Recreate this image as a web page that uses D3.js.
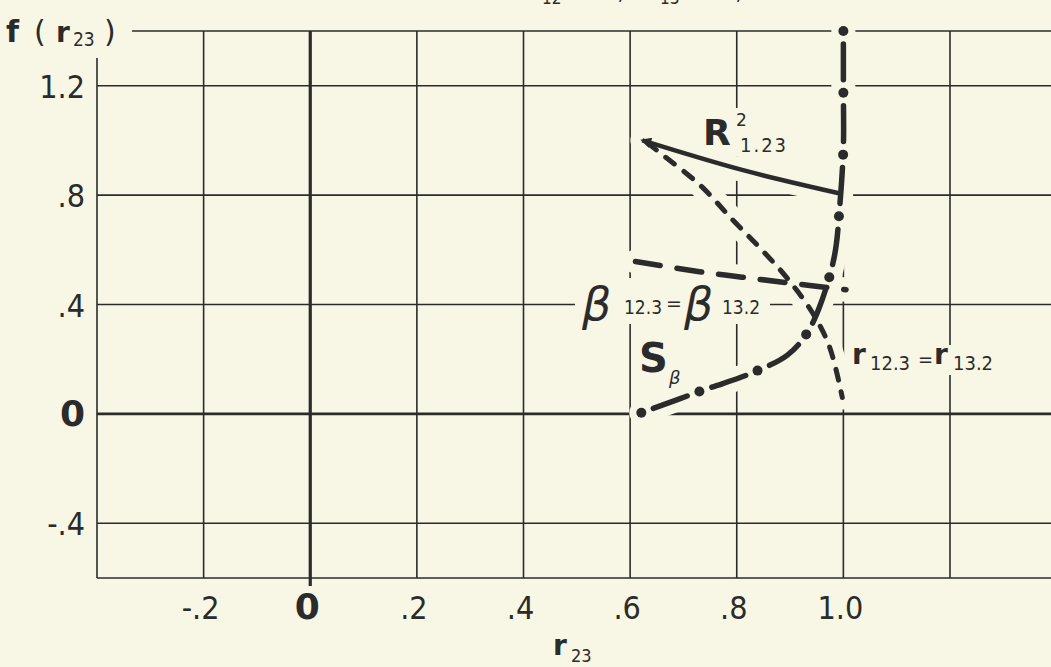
<!DOCTYPE html>
<html>
<head>
<meta charset="utf-8">
<script src="https://cdn.jsdelivr.net/npm/d3@7"></script>
<style>
  html, body { margin: 0; padding: 0; background: #f8f7e5; }
  svg { display: block; }
  text { fill: #2b2b2b; }
</style>
</head>
<body>
<svg></svg>
<script>
const W = 1051, H = 667;

// grid and tick values
const xGrid = [-0.4, -0.2, 0, 0.2, 0.4, 0.6, 0.8, 1.0, 1.2];
const yGrid = [1.4, 1.2, 0.8, 0.4, 0, -0.4, -0.6];
const xTicks = [-0.2, 0, 0.2, 0.4, 0.6, 0.8, 1.0];
const xTickLabels = ["-.2", "0", ".2", ".4", ".6", ".8", "1.0"];
const yTicks = [1.2, 0.8, 0.4, 0, -0.4];
const yTickLabels = ["1.2", ".8", ".4", "0", "-.4"];

// curves, [r23, f(r23)]
const rSquared = [[0.623, 1.0], [0.81, 0.892], [0.996, 0.805]];
const rPartial = [[0.633, 0.99], [0.655, 0.956], [0.732, 0.835], [0.792, 0.71], [0.842, 0.61],
                  [0.893, 0.50], [0.942, 0.37], [0.974, 0.245], [0.998, 0.06]];
const betaLine = [[0.61, 0.557], [0.73, 0.52], [0.81, 0.50], [0.893, 0.48], [1.005, 0.454]];
const sBeta = [[0.621, 0.004], [0.739, 0.088], [0.829, 0.15], [0.895, 0.215], [0.93, 0.29], [0.955, 0.39],
               [0.983, 0.575], [0.993, 0.755], [1.0, 0.975], [1.0, 1.19], [1.0, 1.4]];

const bg = "#f8f7e5", ink = "#2b2b2b";
const tickFont = "'DejaVu Sans Condensed', 'DejaVu Sans', sans-serif";
const labFont = "'DejaVu Sans', sans-serif";

const svg = d3.select("svg").attr("width", W).attr("height", H);
svg.append("rect").attr("width", W).attr("height", H).attr("fill", bg);

const x = d3.scaleLinear().domain([-0.4, 1.2]).range([97, 950]);
const y = d3.scaleLinear().domain([-0.6, 1.4]).range([578, 31]);

// title, almost all of it above the top edge
const title = svg.append("text").attr("font-family", tickFont).attr("font-size", 24);
title.append("tspan").attr("x", 536).attr("y", -1).attr("text-anchor", "end").text("Functions of the correlation when r");
title.append("tspan").attr("x", 542).attr("y", 4).attr("font-size", 17).text("12");
title.append("tspan").attr("x", 572).attr("y", -1).text("= .7,");
title.append("tspan").attr("x", 648).attr("y", -1).text("r");
title.append("tspan").attr("x", 660).attr("y", 4).attr("font-size", 17).text("13");
title.append("tspan").attr("x", 690).attr("y", -1).text("= .7,");
title.append("tspan").attr("x", 752).attr("y", -1).text("N = 25");

// grid
const grid = svg.append("g").attr("stroke", ink);
grid.selectAll(".vg").data(xGrid).join("line")
  .attr("x1", d => x(d)).attr("x2", d => x(d))
  .attr("y1", d => d === -0.4 ? 58 : y(1.4))
  .attr("y2", d => d === 0 ? y(-0.6) + 8 : y(-0.6))
  .attr("stroke-width", d => d === 0 ? 3.2 : 1.6);
grid.selectAll(".hg").data(yGrid).join("line")
  .attr("x1", d => d === 1.4 ? 132 : x(-0.4)).attr("x2", W)
  .attr("y1", d => y(d)).attr("y2", d => y(d))
  .attr("stroke-width", d => d === 0 ? 2.6 : 1.6);

// tick labels
svg.selectAll(".xt").data(xTicks).join("text")
  .attr("x", d => x(d) - 3).attr("y", 619)
  .attr("text-anchor", "middle")
  .attr("font-family", d => d === 0 ? labFont : tickFont)
  .attr("font-weight", d => d === 0 ? "bold" : "normal")
  .attr("font-size", d => d === 0 ? 36 : 32)
  .text((d, i) => xTickLabels[i]);
svg.selectAll(".yt").data(yTicks).join("text")
  .attr("x", 85).attr("y", d => y(d) + 12)
  .attr("text-anchor", "end")
  .attr("font-family", d => d === 0 ? labFont : tickFont)
  .attr("font-weight", d => d === 0 ? "bold" : "normal")
  .attr("font-size", d => d === 0 ? 36 : 32)
  .text((d, i) => yTickLabels[i]);

// axis titles
const fy = svg.append("text").attr("font-family", labFont).attr("font-weight", "bold").attr("font-size", 30);
fy.append("tspan").attr("x", 6).attr("y", 42).text("f");
fy.append("tspan").attr("x", 34).attr("y", 42).attr("font-weight", "normal").text("(");
fy.append("tspan").attr("x", 56).attr("y", 42).attr("font-size", 28).text("r");
fy.append("tspan").attr("x", 73).attr("y", 46).attr("font-size", 19).attr("font-weight", "normal")
  .attr("font-family", tickFont).text("23");
fy.append("tspan").attr("x", 104).attr("y", 42).attr("font-weight", "normal").text(")");

const fx = svg.append("text").attr("font-family", labFont).attr("font-weight", "bold").attr("font-size", 28);
fx.append("tspan").attr("x", 553).attr("y", 655).text("r");
fx.append("tspan").attr("x", 571).attr("y", 662).attr("font-size", 18).attr("font-weight", "normal")
  .attr("font-family", tickFont).text("23");

// paper gaps behind the in-plot labels
const clear = [[575, 278, 195, 46], [636, 336, 52, 50], [850, 345, 155, 30], [700, 108, 90, 48]];
svg.selectAll(".clr").data(clear).join("rect")
  .attr("x", d => d[0]).attr("y", d => d[1]).attr("width", d => d[2]).attr("height", d => d[3])
  .attr("fill", bg);

const line = d3.line().x(d => x(d[0])).y(d => y(d[1])).curve(d3.curveCatmullRom.alpha(0.5));
const curves = [rSquared, rPartial, betaLine, sBeta];

// halos that break the grid where the curves cross it
svg.selectAll(".halo").data(curves).join("path")
  .attr("d", line).attr("fill", "none").attr("stroke", bg)
  .attr("stroke-width", 24).attr("stroke-linecap", "round");

const defs = svg.append("defs");
defs.append("marker").attr("id", "tip")
  .attr("viewBox", "0 0 10 10").attr("refX", 8).attr("refY", 5)
  .attr("markerWidth", 3.2).attr("markerHeight", 2.4).attr("orient", "auto-start-reverse")
  .attr("markerUnits", "strokeWidth")
  .append("path").attr("d", "M0,0 L10,5 L0,10 z").attr("fill", ink);

svg.append("path").attr("d", line(rSquared)).attr("fill", "none")
  .attr("stroke", ink).attr("stroke-width", 4.5).attr("marker-start", "url(#tip)");

svg.append("path").attr("d", line(rPartial)).attr("fill", "none")
  .attr("stroke", ink).attr("stroke-width", 5).attr("stroke-linecap", "round")
  .attr("stroke-dasharray", "11 12");

svg.append("path").attr("d", line(betaLine)).attr("fill", "none")
  .attr("stroke", ink).attr("stroke-width", 5.5).attr("stroke-linecap", "round")
  .attr("stroke-dasharray", "25 17");

// dash-dot: a dot at each end and evenly spaced dots between
const sPath = svg.append("path").attr("d", line(sBeta)).attr("fill", "none")
  .attr("stroke", ink).attr("stroke-width", 5.5).attr("stroke-linecap", "round");
const node = sPath.node(), len = node.getTotalLength();
const step = len / Math.round(len / 62), gap = 13;
sPath.attr("stroke-dasharray", `0 ${gap} ${step - 2 * gap} ${gap}`);
const dots = d3.range(0, Math.round(len / step) + 1).map(i => node.getPointAtLength(Math.min(i * step, len)));
svg.selectAll(".dot").data(dots).join("circle")
  .attr("cx", d => d.x).attr("cy", d => d.y).attr("r", 5).attr("fill", ink);

// curve labels
const rl = svg.append("text").attr("font-family", labFont).attr("font-weight", "bold").attr("font-size", 36);
rl.append("tspan").attr("x", 703).attr("y", 145).text("R");
rl.append("tspan").attr("x", 736).attr("y", 126).attr("font-size", 17).attr("font-weight", "normal").text("2");
rl.append("tspan").attr("x", 740).attr("y", 152).attr("font-size", 20).attr("font-weight", "normal")
  .attr("font-family", tickFont).attr("letter-spacing", 2).text("1.23");

const bl = svg.append("text").attr("font-family", labFont).attr("font-size", 46).attr("font-style", "italic");
bl.append("tspan").attr("x", 582).attr("y", 320).text("β");
bl.append("tspan").attr("x", 624).attr("y", 314).attr("font-size", 19).attr("font-style", "normal")
  .attr("font-family", tickFont).text("12.3");
bl.append("tspan").attr("x", 666).attr("y", 310).attr("font-size", 19).attr("font-style", "normal").text("=");
bl.append("tspan").attr("x", 684).attr("y", 320).text("β");
bl.append("tspan").attr("x", 722).attr("y", 314).attr("font-size", 19).attr("font-style", "normal")
  .attr("font-family", tickFont).text("13.2");

const sl = svg.append("text").attr("font-family", labFont).attr("font-weight", "bold").attr("font-size", 40);
sl.append("tspan").attr("x", 639).attr("y", 372).text("S");
sl.append("tspan").attr("x", 669).attr("y", 384).attr("font-size", 18).attr("font-weight", "normal")
  .attr("font-style", "italic").text("β");

const pl = svg.append("text").attr("font-family", tickFont).attr("font-size", 20);
pl.append("tspan").attr("x", 852).attr("y", 364).attr("font-family", labFont).attr("font-weight", "bold")
  .attr("font-size", 28).text("r");
pl.append("tspan").attr("x", 870).attr("y", 370).text("12.3");
pl.append("tspan").attr("x", 918).attr("y", 366).text("=");
pl.append("tspan").attr("x", 934).attr("y", 364).attr("font-family", labFont).attr("font-weight", "bold")
  .attr("font-size", 28).text("r");
pl.append("tspan").attr("x", 953).attr("y", 370).text("13.2");
</script>
</body>
</html>
